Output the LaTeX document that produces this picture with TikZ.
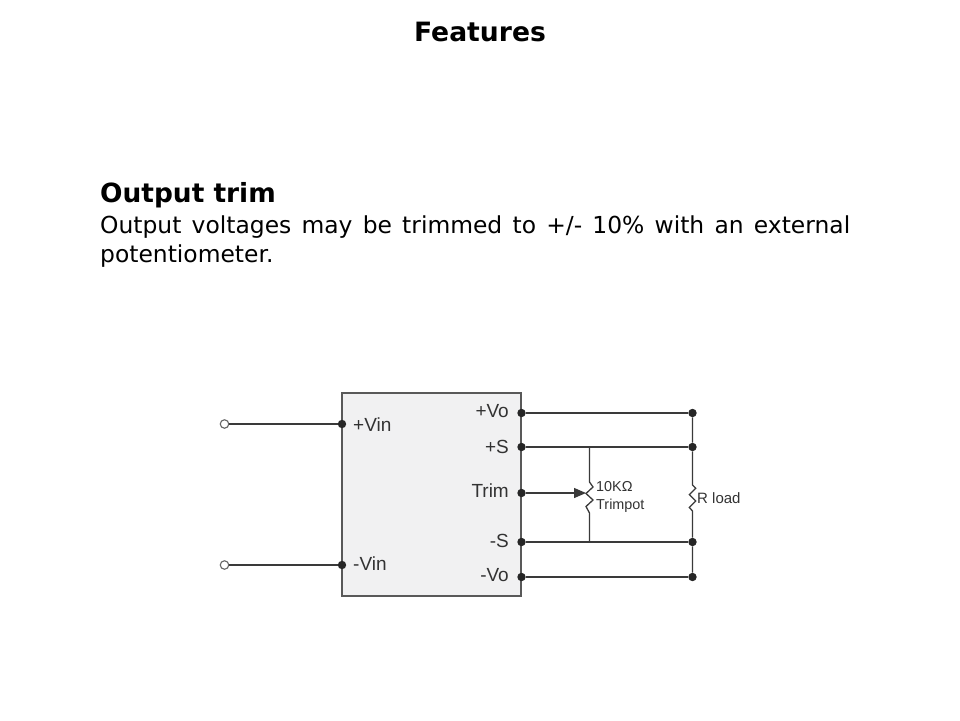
\documentclass[tikz,border=0pt]{standalone}
\usepackage{fontspec}
\setmainfont{DejaVu Sans}
\newfontfamily\diagfont{Liberation Sans}
\usetikzlibrary{arrows.meta}
\definecolor{wirecol}{HTML}{3A3A3A}
\definecolor{boxcol}{HTML}{F1F1F2}
\definecolor{labcol}{HTML}{333333}
\tikzset{
  x=1pt,y=-1pt,
  wire/.style={draw=wirecol,line width=1.3pt},
  dotnode/.style={circle,fill=black!85,draw=none,inner sep=0pt,minimum size=8.4pt},
  termnode/.style={circle,fill=white,draw=black!60,line width=1.1pt,inner sep=0pt,minimum size=8.5pt},
  lab/.style={inner sep=0pt,text=labcol,font=\diagfont\fontsize{19}{21}\selectfont},
  smalllab/.style={inner sep=0pt,anchor=west,text=labcol,font=\diagfont\fontsize{14.4}{16}\selectfont},
  head/.style={inner sep=0pt,text=black}
}
\begin{document}
\begin{tikzpicture}
\useasboundingbox (0,0) rectangle (960,720);
\node[head,font=\bfseries\fontsize{26.6}{30}\selectfont] (title) at (480,32) {Features};
\node[head,anchor=west,font=\bfseries\fontsize{26.4}{30}\selectfont] (sub) at (100,195.5) {Output trim};
\node[head,anchor=north west,font=\fontsize{23.4}{29.2}\selectfont] (body) at (100,215.5)
  {\vbox{\hsize=750pt\baselineskip=29.2pt\hbox to 750pt{Output voltages may be trimmed to +/- 10\% with an external}\hbox{potentiometer.}}};

\node[draw=black!65,fill=boxcol,line width=1.3pt,minimum width=179pt,minimum height=203pt,inner sep=0pt] (box) at (431.5,494.5) {};

\node[termnode] (tp) at (224.5,424) {};
\node[termnode] (tn) at (224.5,565) {};
\node[dotnode] (ip) at (342,424) {};
\node[dotnode] (in) at (342,565) {};
\node[dotnode] (ovp) at (521.5,413) {};
\node[dotnode] (osp) at (521.5,447) {};
\node[dotnode] (otr) at (521.5,493) {};
\node[dotnode] (osn) at (521.5,542) {};
\node[dotnode] (ovn) at (521.5,577) {};
\node[dotnode] (rvp) at (692.5,413) {};
\node[dotnode] (rsp) at (692.5,447) {};
\node[dotnode] (rsn) at (692.5,542) {};
\node[dotnode] (rvn) at (692.5,577) {};
\coordinate (pt) at (589.5,447);
\coordinate (pb) at (589.5,542);
\coordinate (pa) at (589.5,482);
\coordinate (pc) at (589.5,513);
\coordinate (ra) at (692.5,485);
\coordinate (rc) at (692.5,511);
\coordinate (wip) at (586,493);

\draw[wire] (tp) -- (ip);
\draw[wire] (tn) -- (in);
\draw[wire] (ovp) -- (rvp);
\draw[wire] (osp) -- (rsp);
\draw[wire] (osn) -- (rsn);
\draw[wire] (ovn) -- (rvn);
\draw[wire] (rvp) -- (rsp) -- (ra) -- ++(3.2,3.2) -- ++(-6.4,6.4) -- ++(6.4,6.4) -- ++(-6.4,6.4) -- (rc) -- (rsn) -- (rvn);
\draw[wire] (pt) -- (pa) -- ++(3.5,5) -- ++(-7,6.5) -- ++(7,6.5) -- ++(-7,6.5) -- (pc) -- (pb);
\draw[wire,-{Triangle[length=12pt,width=10pt]}] (otr) -- (wip);

\node[lab,anchor=west] (lvip) at (353,425) {+Vin};
\node[lab,anchor=west] (lvin) at (353,564) {-Vin};
\node[lab,anchor=east] (lvop) at (509,411) {+Vo};
\node[lab,anchor=east] (lsp) at (509,447) {+S};
\node[lab,anchor=east] (ltr) at (509,491) {Trim};
\node[lab,anchor=east] (lsn) at (509,541) {-S};
\node[lab,anchor=east] (lvon) at (509,575) {-Vo};
\node[smalllab] (l10k) at (596,487) {10KΩ};
\node[smalllab] (ltp) at (596,506) {Trimpot};
\node[smalllab,font=\diagfont\fontsize{15}{17}\selectfont] (lr) at (697,498) {R load};
\end{tikzpicture}
\end{document}
